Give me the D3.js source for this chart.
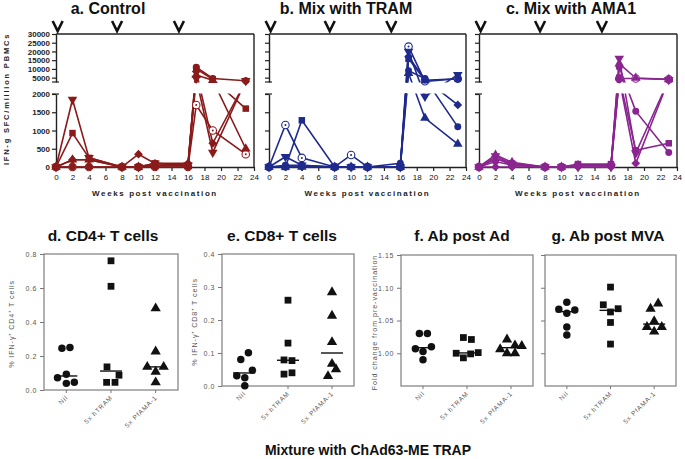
<!DOCTYPE html>
<html><head><meta charset="utf-8">
<script src="https://cdn.jsdelivr.net/npm/d3@7"></script>
<style>body{margin:0;background:#fff;} svg{display:block;font-family:Arial,"Liberation Sans",Helvetica,sans-serif;}</style>
</head><body><svg id="c" width="685" height="459"></svg>
<script>
// ---------- DATA ----------
const weeks = [0, 2, 4, 8, 10, 12, 16, 17, 19, 23];
const weekTicks = [0, 2, 4, 6, 8, 10, 12, 14, 16, 18, 20, 22, 24];
const lowerTicks = [0, 500, 1000, 1500, 2000];
const upperTicks = [5000, 10000, 15000, 20000, 25000, 30000];
const boostWeeks = [0.2, 7.4, 14.9];
const subjectShapes = ["circle", "square", "triangleUp", "triangleDown", "diamond", "openCircle"];

// rows follow subjectShapes order, columns follow weeks
const controlSeries = [
  [0, 0, 0, 0, 0, 0, 0, 11000, 4500, 3200],
  [0, 930, 250, 0, 0, 100, 50, 10000, 4000, 1600],
  [0, 200, 200, 0, 0, 50, 50, 6500, 3500, 500],
  [0, 1850, 250, 0, 0, 100, 50, 4500, 400, 3200],
  [0, 200, 200, 0, 350, 100, 100, 8500, 650, 3000],
  [0, 0, 0, 0, 0, 0, 0, 1700, 1000, 350]
];
const tramSeries = [
  [0, 50, 50, 0, 0, 0, 100, 9000, 4500, 1100],
  [0, 0, 1280, 0, 0, 0, 0, 15800, 3500, 4400],
  [0, 0, 0, 0, 0, 0, 0, 7500, 1340, 630],
  [0, 280, 50, 0, 0, 0, 0, 20000, 1930, 6700],
  [0, 0, 0, 0, 0, 0, 0, 17000, 4000, 1700],
  [0, 1150, 250, 0, 330, 0, 0, 22800, 2900, 4400]
];
const amaSeries = [
  [0, 150, 50, 0, 0, 50, 50, 11000, 1530, 400],
  [0, 220, 100, 0, 0, 80, 80, 5000, 460, 650],
  [0, 330, 130, 0, 0, 50, 50, 13000, 4800, 4000],
  [0, 300, 80, 0, 0, 0, 0, 16000, 380, 3800],
  [0, 0, 0, 0, 0, 0, 0, 4000, 100, 3800],
  [0, 250, 50, 0, 0, 50, 50, 4500, 4500, 4000]
];

const groups = ["Nil", "5x hTRAM", "5x PfAMA-1"];
const groupShapes = ["circle", "square", "triangleUp"];

const cd4Values = [
  [0.245, 0.25, 0.072, 0.093, 0.039, 0.045],
  [0.76, 0.61, 0.136, 0.087, 0.045, 0.045],
  [0.48, 0.227, 0.136, 0.136, 0.107, 0.045]
];
const cd4Spread = [[-0.55, 0.45, -1.1, 0, 0, 1], [0, 0, -0.5, 1, -0.55, 0.5], [0, 0, -1.05, 1, 0, 0]];

const cd8Values = [
  [0.101, 0.080, 0.048, 0.031, 0.025, 0.001],
  [0.26, 0.13, 0.079, 0.077, 0.036, 0.040],
  [0.284, 0.213, 0.133, 0.067, 0.051, 0.030]
];
const cd8Spread = [[0.55, -0.4, 1.05, -0.9, 0.1, 0.1], [0, 0, -0.5, 0.5, -0.5, 0.5], [0, 0, 0, 0, 0.5, -0.5]];

const adValues = [
  [1.030, 1.030, 1.007, 1.010, 1.0026, 0.990],
  [1.024, 1.021, 1.000, 1.001, 0.993, 0.999],
  [1.021, 1.012, 1.011, 1.006, 1.000, 1.000]
];
const adSpread = [[-0.45, 0.55, -0.95, 1.05, 0, 0], [-0.45, 0.55, -1.35, 1.4, -0.45, 0.45], [-0.5, 0.5, 1.35, -1.35, -0.5, 0.5]];

const mvaValues = [
  [1.078, 1.067, 1.066, 1.061, 1.040, 1.028],
  [1.101, 1.074, 1.068, 1.063, 1.047, 1.014],
  [1.068, 1.076, 1.049, 1.040, 1.040, 1.033]
];
const mvaSpread = [[0, -1, 1, 0, 0, 0], [0, -0.9, 0.95, 0, 0, 0], [-0.45, 0.5, 0, -0.9, 0.95, 0]];

const abTicks = [1.00, 1.05, 1.10, 1.15];

// ---------- DRAWING ----------
const svg = d3.select("#c");

function symbolPath(shape, size) {
  const map = {circle: d3.symbolCircle, openCircle: d3.symbolCircle, square: d3.symbolSquare,
    triangleUp: d3.symbolTriangle, triangleDown: d3.symbolTriangle, diamond: d3.symbolSquare};
  return d3.symbol(map[shape], size)();
}
function rotFor(shape) { return shape === "triangleDown" ? 180 : (shape === "diamond" ? 45 : 0); }

function drawMarker(g, shape, cx, cy, color, size) {
  const m = g.append("g").attr("transform", `translate(${cx},${cy}) rotate(${rotFor(shape)})`);
  if (shape === "openCircle") {
    m.append("path").attr("d", symbolPath("circle", size)).attr("fill", "#fff").attr("stroke", color).attr("stroke-width", 1.1);
    m.append("circle").attr("r", 1).attr("fill", color);
  } else {
    m.append("path").attr("d", symbolPath(shape, size)).attr("fill", color);
  }
}

const topPanels = [
  {title: "a. Control", tx: 108, x0: 56, x1: 254, color: "#8b1a1a", series: controlSeries, labels: true, id: "a"},
  {title: "b. Mix with TRAM", tx: 346, x0: 269, x1: 466, color: "#1e2a8c", series: tramSeries, labels: false, id: "b"},
  {title: "c. Mix with AMA1", tx: 571, x0: 479, x1: 677, color: "#8a2590", series: amaSeries, labels: false, id: "c"}
];

const Y_TOP = 34, Y_UB = 82, Y_LT = 94, Y_BASE = 167;
const drawOrder = [5, 4, 3, 2, 1, 0];

topPanels.forEach(p => {
  const g = svg.append("g");
  const x = d3.scaleLinear().domain([0, 24]).range([p.x0, p.x1]);
  const yLo = d3.scaleLinear().domain([0, 2000]).range([Y_BASE, Y_LT]);
  const yHi = d3.scaleLinear().domain([2500, 30000]).range([Y_UB, Y_TOP]);
  const y = v => v <= 2000 ? yLo(v) : yHi(Math.max(v, 2500));

  g.append("text").attr("x", p.tx).attr("y", 14).attr("text-anchor", "middle")
    .attr("font-size", 16).attr("font-weight", "bold").attr("fill", "#111").text(p.title);

  boostWeeks.forEach(w => {
    const cx = x(w);
    g.append("path").attr("d", `M${cx - 5},21 L${cx},31 L${cx + 5},21`)
      .attr("fill", "none").attr("stroke", "#111").attr("stroke-width", 2.6).attr("stroke-linejoin", "miter");
  });

  g.append("line").attr("x1", p.x0).attr("x2", p.x1).attr("y1", Y_TOP).attr("y2", Y_TOP).attr("stroke", "#222").attr("stroke-width", 1.4);
  g.append("line").attr("x1", p.x1).attr("x2", p.x1).attr("y1", Y_TOP).attr("y2", Y_BASE).attr("stroke", "#222").attr("stroke-width", 1.4);

  const xa = g.append("g").attr("transform", `translate(0,${Y_BASE})`)
    .call(d3.axisBottom(x).tickValues(weekTicks).tickSize(4).tickSizeOuter(0).tickPadding(3));
  xa.select(".domain").attr("stroke", "#222").attr("stroke-width", 1.4);
  xa.selectAll(".tick line").attr("stroke", "#222").attr("stroke-width", 1.2);
  xa.selectAll("text").attr("font-size", 8).attr("fill", "#111").attr("font-family", "Arial, sans-serif");

  const ya1 = g.append("g").attr("transform", `translate(${p.x0},0)`)
    .call(d3.axisLeft(yHi).tickValues(upperTicks).tickSize(4).tickSizeOuter(0).tickPadding(2)
      .tickFormat(p.labels ? d3.format("d") : ""));
  const ya2 = g.append("g").attr("transform", `translate(${p.x0},0)`)
    .call(d3.axisLeft(yLo).tickValues(lowerTicks).tickSize(4).tickSizeOuter(0).tickPadding(2)
      .tickFormat(p.labels ? d3.format("d") : ""));
  [ya1, ya2].forEach(a => {
    a.select(".domain").attr("stroke", "#222").attr("stroke-width", 1.4);
    a.selectAll(".tick line").attr("stroke", "#222").attr("stroke-width", 1.2);
    a.selectAll("text").attr("font-size", 8).attr("font-weight", "bold").attr("fill", "#222");
  });
  [Y_UB, Y_LT].forEach(yy => g.append("line").attr("x1", p.x0 - 4).attr("x2", p.x0 + 3).attr("y1", yy).attr("y2", yy)
    .attr("stroke", "#222").attr("stroke-width", 1.2));

  const cp = svg.append("clipPath").attr("id", "clip" + p.id);
  cp.append("rect").attr("x", p.x0 - 5).attr("y", 20).attr("width", p.x1 - p.x0 + 10).attr("height", Y_UB + 0.5 - 20);
  cp.append("rect").attr("x", p.x0 - 5).attr("y", Y_LT - 0.5).attr("width", p.x1 - p.x0 + 10).attr("height", 180 - Y_LT);

  const line = d3.line().x((d, i) => x(weeks[i])).y(d => y(d));
  const lg = g.append("g").attr("clip-path", `url(#clip${p.id})`);
  drawOrder.forEach(k => {
    lg.append("path").attr("d", line(p.series[k])).attr("fill", "none").attr("stroke", p.color).attr("stroke-width", 1.6);
  });
  const mg = g.append("g");
  drawOrder.forEach(k => {
    const shape = subjectShapes[k];
    const size = shape === "square" ? 42 : (shape === "openCircle" ? 44 : (shape.startsWith("tri") ? 40 : 38));
    p.series[k].forEach((v, i) => drawMarker(mg, shape, x(weeks[i]), y(v), p.color, size));
  });

  g.append("text").attr("x", (p.x0 + p.x1) / 2).attr("y", 196).attr("text-anchor", "middle")
    .attr("font-size", 8).attr("font-weight", "bold").attr("letter-spacing", 1.6).attr("fill", "#222")
    .text("Weeks post vaccination");
});

svg.append("text").attr("transform", "translate(9,99) rotate(-90)").attr("text-anchor", "middle")
  .attr("font-size", 7.5).attr("font-weight", "bold").attr("letter-spacing", 1.8).attr("fill", "#222")
  .text("IFN-g SFC/million PBMCs");

// ---------- bottom dot plots ----------
const dotPanels = [
  {title: "d. CD4+ T cells", tx: 103, x0: 44, x1: 178, yTop: 254, yBot: 390, domain: [0, 0.8], ticks: [0, 0.2, 0.4, 0.6, 0.8],
   fmt: d3.format(".1f"), values: cd4Values, spread: cd4Spread, ylab: "% IFN-\u03b3\u207a CD4\u207a T cells", ylx: 14},
  {title: "e. CD8+ T cells", tx: 282, x0: 222, x1: 354, yTop: 254, yBot: 386, domain: [0, 0.4], ticks: [0, 0.1, 0.2, 0.3, 0.4],
   fmt: d3.format(".1f"), values: cd8Values, spread: cd8Spread, ylab: "% IFN-\u03b3\u207a CD8\u207a T cells", ylx: 197},
  {title: "f. Ab post Ad", tx: 462, x0: 401, x1: 533, yTop: 255, yBot: 386, domain: [0.95, 1.15], ticks: abTicks,
   fmt: d3.format(".2f"), values: adValues, spread: adSpread, ylab: "Fold change from pre-vaccination", ylx: 377},
  {title: "g. Ab post MVA", tx: 608, x0: 545, x1: 676, yTop: 255, yBot: 386, domain: [0.95, 1.15], ticks: abTicks,
   fmt: () => "", values: mvaValues, spread: mvaSpread, ylab: null}
];

dotPanels.forEach(p => {
  const g = svg.append("g");
  const x = d3.scaleBand().domain(groups).range([p.x0, p.x1]);
  const y = d3.scaleLinear().domain(p.domain).range([p.yBot, p.yTop]);
  g.append("text").attr("x", p.tx).attr("y", 241).attr("text-anchor", "middle")
    .attr("font-size", 15.5).attr("font-weight", "bold").attr("fill", "#111").text(p.title);
  g.append("rect").attr("x", p.x0).attr("y", p.yTop).attr("width", p.x1 - p.x0).attr("height", p.yBot - p.yTop)
    .attr("fill", "none").attr("stroke", "#888").attr("stroke-width", 1.3);
  const ya = g.append("g").attr("transform", `translate(${p.x0},0)`)
    .call(d3.axisLeft(y).tickValues(p.ticks).tickSize(4).tickSizeOuter(0).tickPadding(3).tickFormat(p.fmt));
  ya.select(".domain").remove();
  ya.selectAll(".tick line").attr("stroke", "#777").attr("stroke-width", 1);
  ya.selectAll("text").attr("font-size", 7).attr("letter-spacing", 0.6).attr("fill", "#555");
  const xa = g.append("g").attr("transform", `translate(0,${p.yBot})`)
    .call(d3.axisBottom(x).tickSize(3).tickSizeOuter(0).tickFormat(""));
  xa.select(".domain").remove();
  xa.selectAll(".tick line").attr("stroke", "#777");
  groups.forEach(gr => {
    const cx = x(gr) + x.bandwidth() / 2;
    g.append("text").attr("transform", `translate(${cx + 2},${p.yBot + 8}) rotate(-45)`).attr("text-anchor", "end")
      .attr("font-size", 6.5).attr("letter-spacing", 0.8).attr("fill", "#555").text(gr);
  });
  if (p.ylab) {
    g.append("text").attr("transform", `translate(${p.ylx},${(p.yTop + p.yBot) / 2 + 2}) rotate(-90)`).attr("text-anchor", "middle")
      .attr("font-size", 7.2).attr("letter-spacing", 0.9).attr("fill", "#555").text(p.ylab);
  }
  p.values.forEach((vals, gi) => {
    const cx = x(groups[gi]) + x.bandwidth() / 2;
    const med = d3.median(vals);
    g.append("line").attr("x1", cx - 11).attr("x2", cx + 11).attr("y1", y(med)).attr("y2", y(med))
      .attr("stroke", "#111").attr("stroke-width", 1.4);
    vals.forEach((v, i) => drawMarker(g, groupShapes[gi], cx + p.spread[gi][i] * 8, y(v), "#111", groupShapes[gi] === "circle" ? 44 : 46));
  });
});

svg.append("text").attr("x", 368).attr("y", 455).attr("text-anchor", "middle")
  .attr("font-size", 14).attr("font-weight", "bold").attr("fill", "#111").text("Mixture with ChAd63-ME TRAP");
</script></body></html>
